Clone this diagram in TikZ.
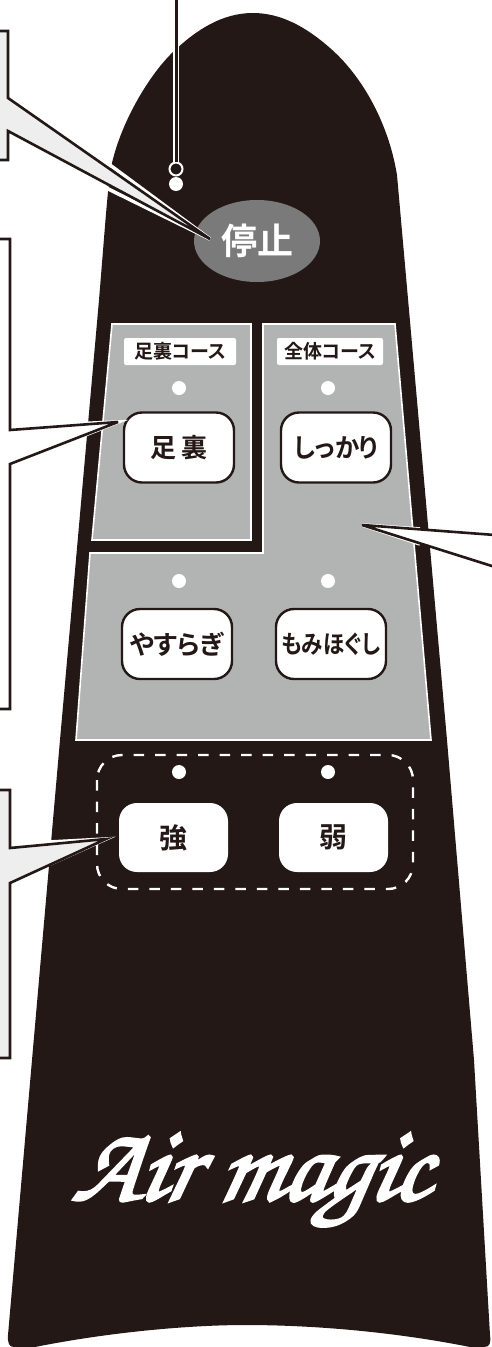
\documentclass[tikz,border=0pt]{standalone}
\usepackage{fontspec}
\setmainfont{Noto Sans CJK JP}[BoldFont={Noto Sans CJK JP Bold},RawFeature=+palt]
\newfontfamily\scriptfam{TeX Gyre Chorus}[FakeBold=2.6,FakeSlant=0.22]
\usetikzlibrary{shapes.geometric,calc}
\definecolor{ink}{HTML}{231815}
\definecolor{panel}{HTML}{B2B4B3}
\definecolor{calloutfill}{HTML}{EEEEEF}
\definecolor{stopgrey}{HTML}{7A7A7A}
\tikzset{
  x=1pt,y=-1pt,
  panelshape/.style={fill=panel,draw=white,line width=1.6pt,line join=miter},
  led/.style={circle,fill=white,draw=none,minimum size=14pt,inner sep=0pt},
  softkey/.style={rounded corners=18pt,fill=white,draw=ink,line width=2.4pt,minimum width=110pt,minimum height=70pt,inner sep=0pt,text=ink,font=\bfseries\fontsize{26}{26}\selectfont},
  hardkey/.style={rounded corners=18pt,fill=white,draw=none,minimum width=109pt,minimum height=69pt,inner sep=0pt,text=ink,font=\bfseries\fontsize{28}{28}\selectfont},
  tagbox/.style={rounded corners=2pt,fill=white,draw=none,minimum height=27pt,inner sep=0pt,text=ink,font=\bfseries\fontsize{19}{19}\selectfont},
  halo/.style={draw=white,line width=3.6pt,line join=miter,miter limit=6},
  callout/.style={draw=ink,line width=2.6pt,line join=miter,miter limit=6},
}
\begin{document}
\begin{tikzpicture}
\useasboundingbox (0,0) rectangle (492,1347);
% body
\fill[ink] (253,13)
  .. controls (222,13) and (196,30) .. (173,52)
  .. controls (150,74) and (122,120) .. (112,163)
  .. controls (108,182) and (106,215) .. (99,300)
  -- (60,740) -- (32,1060) -- (8,1335)
  .. controls (7.5,1343) and (9,1347) .. (14,1347)
  -- (35,1347)
  .. controls (110,1332) and (190,1325) .. (245,1325)
  .. controls (320,1325) and (400,1333) .. (470,1347)
  -- (484,1347)
  .. controls (490,1347) and (491,1343) .. (490,1335)
  -- (474,1060) -- (447,740) -- (409,310) -- (397,175)
  .. controls (388,120) and (360,74) .. (330,48)
  .. controls (305,26) and (280,13) .. (253,13) -- cycle;
% panels
\path[panelshape] (112,324) -- (251,324) -- (251,540) -- (92,540) -- cycle;
\path[panelshape] (263,324) -- (395,324) -- (431,740) -- (76,740) -- (90,553) -- (263,553) -- cycle;
% stop key
\node[ellipse,fill=stopgrey,draw=none,minimum width=126pt,minimum height=82pt,inner sep=0pt,text=white,font=\bfseries\fontsize{36}{36}\selectfont] (stop) at (257,241) {停止};
% indicator leader at top
\node[circle,draw=white,fill=ink,line width=2pt,minimum size=13pt,inner sep=0pt] (ring) at (176,169) {};
\node[led] (powerled) at (176,184) {};
\coordinate (topend) at (176,0);
\draw[draw=white,line width=6pt] (topend) -- (ring.north);
\draw[draw=ink,line width=3pt] (topend) -- (ring.north);
% tags
\node[tagbox,minimum width=112pt] (tagfoot) at (180,351.5) {足裏コース};
\node[tagbox,minimum width=106pt] (tagall) at (330,351.5) {全体コース};
% LEDs
\node[led] (l1) at (179,388) {};
\node[led] (l2) at (328,388) {};
\node[led] (l3) at (179,581) {};
\node[led] (l4) at (328,581) {};
\node[led] (l5) at (179,772) {};
\node[led] (l6) at (328,772) {};
% soft keys
\node[softkey] (foot) at (179,447.5) {足\hspace{6pt}裏};
\node[softkey] (firm) at (336,447.5) {\scalebox{0.94}[1]{しっかり}};
\node[softkey] (relax) at (177,644) {やすらぎ};
\node[softkey,font=\bfseries\fontsize{25}{25}\selectfont] (knead) at (331,644) {\scalebox{0.86}[1]{もみほぐし}};
% hard keys
\node[hardkey] (strong) at (173.5,837.5) {強};
\node[hardkey] (weak) at (333.5,837.5) {弱};
\draw[white,line width=2.4pt,dash pattern=on 10.5pt off 11pt,rounded corners=25pt] (97,755) rectangle (413,889);
% brand
\node[text=white,inner sep=0pt,anchor=base] (brand) at (249,1200) {\scalebox{1.19}[1.22]{\scriptfam\fontsize{88}{88}\selectfont Air magic}};
% callouts: halo where they cross the body, then ink outline
\coordinate (c1tip) at (210,239);
\coordinate (c2tip) at (118,422);
\coordinate (c3tip) at (106,839);
\coordinate (c4tip) at (362,525);
\path[halo] (95,154) -- (c1tip) -- (90,180);
\path[callout,fill=calloutfill] (-3,31) -- (8,31) -- (8,98) -- (c1tip) -- (8,131) -- (8,160) -- (-3,160);
\path[halo] (70,424) -- (c2tip) -- (70,441);
\path[callout,fill=white] (-3,239) -- (10,239) -- (10,430) -- (c2tip) -- (10,464) -- (10,709) -- (-3,709);
\path[halo] (50,842) -- (c3tip) -- (50,864);
\path[callout,fill=calloutfill] (-3,790) -- (10,790) -- (10,848) -- (c3tip) -- (10,883) -- (10,1058) -- (-3,1058);
\path[halo] (420,529) -- (c4tip) -- (420,544);
\path[callout,fill=white] (495,535) -- (c4tip) -- (495,567);
\end{tikzpicture}
\end{document}
